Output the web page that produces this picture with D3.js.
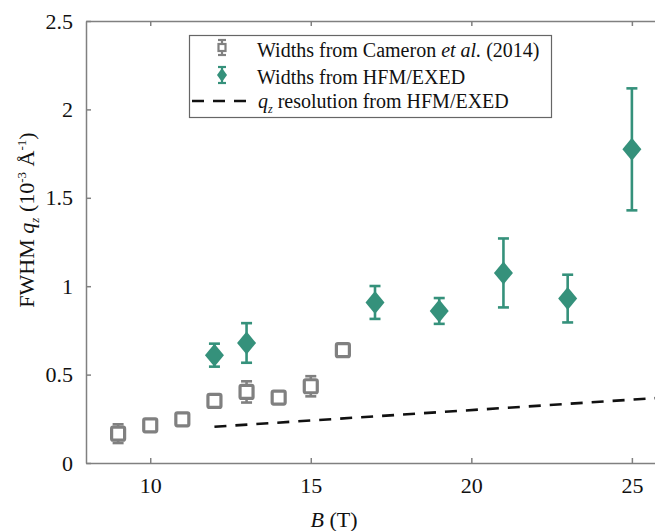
<!DOCTYPE html>
<html>
<head>
<meta charset="utf-8">
<script src="https://cdn.jsdelivr.net/npm/d3@7"></script>
<style>
  body { margin: 0; background: #fff; }
  text { font-family: "Liberation Serif", "Times New Roman", serif; fill: #111; }
</style>
</head>
<body>
<div id="chart"></div>
<script>

// data
var cameronB = [9, 10, 11, 12, 13, 14, 15, 16];
var cameronW = [0.166, 0.213, 0.247, 0.351, 0.402, 0.37, 0.434, 0.638];
var cameronErr = [0.053, 0.02, 0.01, 0.03, 0.06, 0.03, 0.057, 0.025];

var exedB = [12, 13, 17, 19, 21, 23, 25];
var exedW = [0.61, 0.679, 0.908, 0.86, 1.075, 0.93, 1.774];
var exedErr = [0.065, 0.112, 0.093, 0.073, 0.195, 0.135, 0.345];

var resB = [12, 26];
var resW = [0.205, 0.37];

var xTicks = [10, 15, 20, 25];
var yTicks = [0, 0.5, 1, 1.5, 2, 2.5];

var svgWidth = 655;
var svgHeight = 531;

var margin = { top: 21, right: -9, bottom: 68, left: 86 };
var width = svgWidth - margin.left - margin.right;
var height = svgHeight - margin.top - margin.bottom;

var grey = "#808080";
var teal = "#35917b";

var svg = d3.select("#chart")
  .append("svg")
  .attr("width", svgWidth)
  .attr("height", svgHeight);

var chartGroup = svg.append("g")
  .attr("transform", `translate(${margin.left}, ${margin.top})`);

var xScale = d3.scaleLinear().domain([8, 26]).range([0, width]);
var yScale = d3.scaleLinear().domain([0, 2.5]).range([height, 0]);

// axes, ticks pointing inward
var bottomAxis = d3.axisBottom(xScale).tickValues(xTicks).tickSizeInner(-5).tickSizeOuter(0).tickPadding(14);
var topAxis = d3.axisTop(xScale).tickValues(xTicks).tickSizeInner(-5).tickSizeOuter(0).tickFormat("");
var leftAxis = d3.axisLeft(yScale).tickValues(yTicks).tickSizeInner(-5).tickSizeOuter(0).tickPadding(13)
  .tickFormat(d3.format("~g"));

function styleAxis(g) {
  g.selectAll("path").attr("stroke", grey).attr("stroke-width", 1.5);
  g.selectAll("line").attr("stroke", grey).attr("stroke-width", 1.5);
  g.selectAll("text")
    .attr("fill", "#111")
    .style("font-family", "'Liberation Serif', serif")
    .style("font-size", "22px");
}

chartGroup.append("g")
  .attr("transform", `translate(0, ${height})`)
  .call(bottomAxis)
  .call(styleAxis);

chartGroup.append("g")
  .call(topAxis)
  .call(styleAxis);

chartGroup.append("g")
  .call(leftAxis)
  .call(styleAxis);

// resolution line
var line = d3.line()
  .x(d => xScale(d[0]))
  .y(d => yScale(d[1]));

chartGroup.append("path")
  .datum(resB.map((b, i) => [b, resW[i]]))
  .attr("d", line)
  .attr("fill", "none")
  .attr("stroke", "#111")
  .attr("stroke-width", 2.6)
  .attr("stroke-dasharray", "12,9");

// error bars helper
function errorBars(group, xs, ys, es, color) {
  var bars = group.selectAll(null)
    .data(xs.map((b, i) => ({ b: b, w: ys[i], e: es[i] })))
    .enter()
    .append("g")
    .attr("stroke", color)
    .attr("stroke-width", 2.6);
  bars.append("line")
    .attr("x1", d => xScale(d.b)).attr("x2", d => xScale(d.b))
    .attr("y1", d => yScale(d.w - d.e)).attr("y2", d => yScale(d.w + d.e));
  bars.append("line")
    .attr("x1", d => xScale(d.b) - 5.5).attr("x2", d => xScale(d.b) + 5.5)
    .attr("y1", d => yScale(d.w - d.e)).attr("y2", d => yScale(d.w - d.e));
  bars.append("line")
    .attr("x1", d => xScale(d.b) - 5.5).attr("x2", d => xScale(d.b) + 5.5)
    .attr("y1", d => yScale(d.w + d.e)).attr("y2", d => yScale(d.w + d.e));
}

// Cameron et al. squares
errorBars(chartGroup, cameronB, cameronW, cameronErr, grey);

chartGroup.selectAll(".sq")
  .data(cameronB)
  .enter()
  .append("rect")
  .attr("x", (d) => xScale(d) - 6.5)
  .attr("y", (d, i) => yScale(cameronW[i]) - 6.5)
  .attr("width", 13)
  .attr("height", 13)
  .attr("rx", 1.5)
  .attr("fill", "#fff")
  .attr("stroke", grey)
  .attr("stroke-width", 3.2);

// HFM/EXED diamonds
errorBars(chartGroup, exedB, exedW, exedErr, teal);

var diamond = "M0,-11.5L9.5,0L0,11.5L-9.5,0Z";

chartGroup.selectAll(".dm")
  .data(exedB)
  .enter()
  .append("path")
  .attr("d", diamond)
  .attr("transform", (d, i) => `translate(${xScale(d)}, ${yScale(exedW[i])})`)
  .attr("fill", teal);

// legend
var legend = svg.append("g");

legend.append("rect")
  .attr("x", 189.5).attr("y", 35.5)
  .attr("width", 362).attr("height", 82)
  .attr("fill", "#fff")
  .attr("stroke", "#666")
  .attr("stroke-width", 1.2);

// legend symbol 1
var lg1 = legend.append("g").attr("stroke", grey).attr("stroke-width", 2.2);
lg1.append("line").attr("x1", 222).attr("x2", 222).attr("y1", 40).attr("y2", 55);
lg1.append("line").attr("x1", 218).attr("x2", 226).attr("y1", 40).attr("y2", 40);
lg1.append("line").attr("x1", 218).attr("x2", 226).attr("y1", 55).attr("y2", 55);
lg1.append("rect").attr("x", 218.5).attr("y", 44).attr("width", 7).attr("height", 7)
  .attr("fill", "#fff").attr("stroke-width", 2.2);

// legend symbol 2
var lg2 = legend.append("g").attr("stroke", teal).attr("stroke-width", 2.2);
lg2.append("line").attr("x1", 222).attr("x2", 222).attr("y1", 67).attr("y2", 83);
lg2.append("line").attr("x1", 218).attr("x2", 226).attr("y1", 67).attr("y2", 67);
lg2.append("line").attr("x1", 218).attr("x2", 226).attr("y1", 83).attr("y2", 83);
legend.append("path").attr("d", "M0,-7L5,0L0,7L-5,0Z")
  .attr("transform", "translate(222, 75)")
  .attr("fill", teal);

// legend symbol 3
legend.append("line")
  .attr("x1", 192).attr("x2", 254)
  .attr("y1", 101).attr("y2", 101)
  .attr("stroke", "#111")
  .attr("stroke-width", 2.6)
  .attr("stroke-dasharray", "12,9");

var t1 = legend.append("text").attr("x", 257).attr("y", 57).style("font-size", "20px");
t1.append("tspan").text("Widths from Cameron ");
t1.append("tspan").attr("font-style", "italic").text("et al.");
t1.append("tspan").text(" (2014)");

legend.append("text").attr("x", 257).attr("y", 84).style("font-size", "20px")
  .text("Widths from HFM/EXED");

var t3 = legend.append("text").attr("x", 258).attr("y", 108).style("font-size", "20px");
t3.append("tspan").attr("font-style", "italic").text("q");
t3.append("tspan").attr("font-style", "italic").attr("font-size", "12px").attr("dy", 5).text("z");
t3.append("tspan").attr("dy", -5).text(" resolution from HFM/EXED");

// axis titles
var xt = svg.append("text")
  .attr("x", 334).attr("y", 527)
  .attr("text-anchor", "middle")
  .style("font-size", "22px");
xt.append("tspan").attr("font-style", "italic").text("B");
xt.append("tspan").text(" (T)");

var yt = svg.append("text")
  .attr("transform", "translate(34, 220) rotate(-90)")
  .attr("text-anchor", "middle")
  .style("font-size", "22px");
yt.append("tspan").text("FWHM ");
yt.append("tspan").attr("font-style", "italic").text("q");
yt.append("tspan").attr("font-style", "italic").attr("font-size", "13px").attr("dy", 5).text("z");
yt.append("tspan").attr("dy", -5).text(" (10");
yt.append("tspan").attr("font-size", "13px").attr("dy", -8).text("-3");
yt.append("tspan").attr("dy", 8).text(" Å");
yt.append("tspan").attr("font-size", "13px").attr("dy", -8).text("-1");
yt.append("tspan").attr("dy", 8).text(")");

</script>
</body>
</html>
